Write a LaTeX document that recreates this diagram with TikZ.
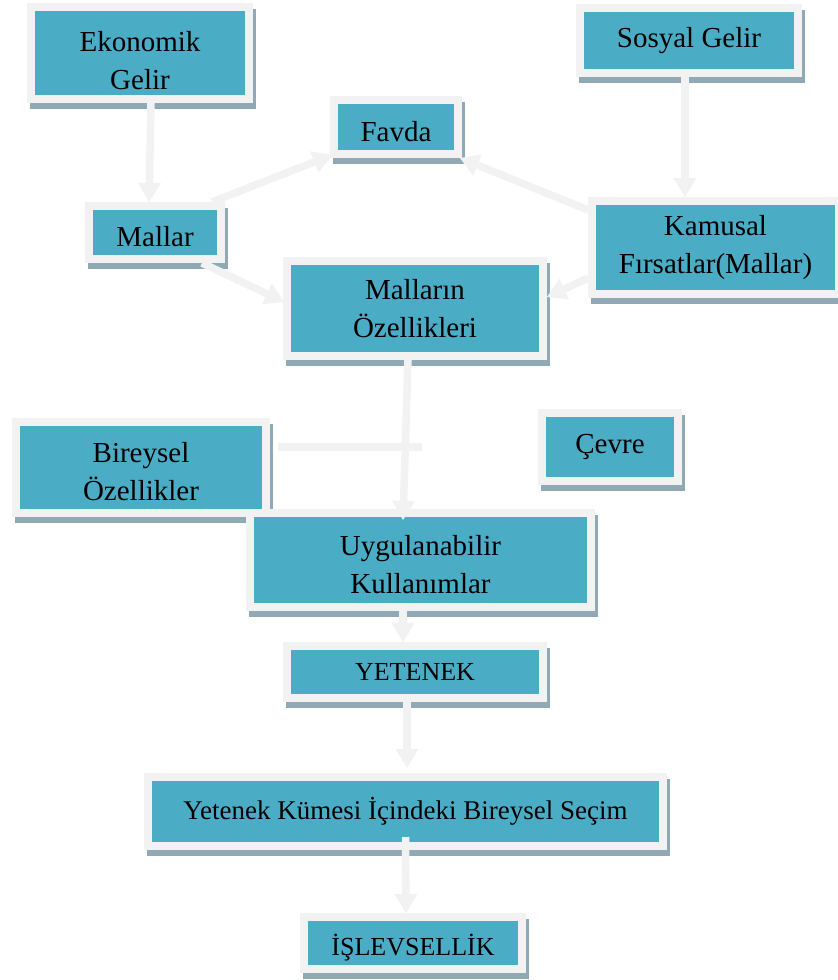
\documentclass[tikz,border=0pt]{standalone}
\usepackage{fontspec}
\setmainfont{Liberation Serif}
\usetikzlibrary{calc}
\usetikzlibrary{arrows.meta}
\usetikzlibrary{shadows}
\definecolor{turkuaz}{HTML}{4BACC6}
\definecolor{cerceve}{HTML}{F2F2F2}
\definecolor{golge}{HTML}{8FAAB4}

\begin{document}
\begin{tikzpicture} [x=1pt, y=-1pt,
 kutu/.style={draw=cerceve, line width=8pt, fill=turkuaz, inner sep=0pt, align=center,
  font=\fontsize{29}{38}\selectfont,
  drop shadow={shadow xshift=3pt, shadow yshift=-6pt, draw=golge, fill=golge, line width=8pt, opacity=1}},
 kucuk/.style={font=\fontsize{26}{32}\selectfont},
 alcak/.style={text height=#1, text depth=0pt},
 ok/.style={cerceve, line width=7.5pt, ->, >={Triangle[width=23pt, length=19pt, line width=0pt]}}]
\useasboundingbox (0,0) rectangle (838,980);
\node[kutu, minimum width=218pt, minimum height=92pt] (ekonomik) at (140,53) {\rule{0pt}{1.2em}Ekonomik\\Gelir};
\node[kutu, minimum width=218pt, minimum height=65pt] (sosyal) at (689,40.5) {Sosyal Gelir};
\node[kutu, alcak=28pt, minimum width=124pt, minimum height=54pt] (favda) at (396,127) {Favda};
\node[kutu, alcak=28pt, minimum width=132pt, minimum height=53pt] (mallar) at (155,232.5) {Mallar};
\node[kutu, minimum width=247pt, minimum height=93pt] (kamusal) at (715.5,247.5) {Kamusal\\Fırsatlar(Mallar)};
\node[kutu, minimum width=256pt, minimum height=95pt] (ozellik) at (415,308.5) {Malların\\Özellikleri};
\node[kutu, minimum width=250pt, minimum height=91pt] (bireysel) at (141,467.5) {\rule{0pt}{1em}Bireysel\\Özellikler};
\node[kutu, minimum width=136pt, minimum height=68pt] (cevre) at (610,447) {Çevre};
\node[kutu, minimum width=341pt, minimum height=94pt] (uygulama) at (420.5,560) {\rule{0pt}{1em}Uygulanabilir\\Kullanımlar};
\node[kutu, kucuk, minimum width=256pt, minimum height=52pt] (yetenek) at (415,672) {YETENEK};
\node[kutu, font=\fontsize{27}{32}\selectfont, minimum width=515pt, minimum height=69pt] (secim) at (405.5,811.5) {Yetenek Kümesi İçindeki Bireysel Seçim};
\node[kutu, kucuk, alcak=24pt, minimum width=218pt, minimum height=52pt] (islev) at (413,943) {İŞLEVSELLİK};

\draw[ok] ([xshift=11pt]ekonomik.south) -- ([xshift=-6pt]mallar.north);
\draw[ok] ([xshift=-4pt]sosyal.south) -- ([xshift=-30.5pt]kamusal.north);
\draw[ok] ([xshift=-13pt]mallar.north east) -- ([shift={(2pt,3pt)}]favda.south west);
\draw[ok] ([yshift=-13pt]kamusal.north west) -- ([xshift=-2pt]favda.south east);
\draw[ok] ([xshift=-23pt]mallar.south east) -- ([shift={(1pt,6.5pt)}]ozellik.west);
\draw[ok] ([yshift=20pt]kamusal.south west) -- ([yshift=11.5pt]ozellik.east);
\draw[ok] ([xshift=-7pt]ozellik.south) -- ([shift={(-17.5pt,-11pt)}]uygulama.north);
\coordinate (kesisim) at (422,447);
\draw[ok, -] ($(bireysel.east |- kesisim)+(8,0)$) -- (kesisim);
\draw[ok] ([xshift=-17.5pt]uygulama.south) -- ([xshift=-12pt]yetenek.north);
\draw[ok] ([xshift=-8pt]yetenek.south) -- ([shift={(1.5pt,5pt)}]secim.north);
\draw[ok] ([yshift=13pt]secim.south) -- ([xshift=-7pt]islev.north);
\end{tikzpicture}
\end{document}
